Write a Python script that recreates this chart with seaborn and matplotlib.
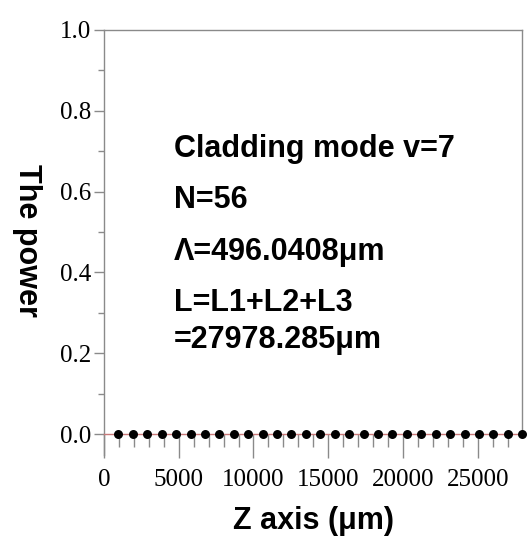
import matplotlib
matplotlib.use("Agg")
import matplotlib.pyplot as plt
import seaborn as sns
import pandas as pd
from matplotlib.ticker import MultipleLocator

# ---- data ----
z_positions = [965, 1929, 2894, 3859, 4824, 5789, 6753, 7718, 8683, 9648,
               10612, 11577, 12542, 13507, 14471, 15436, 16401, 17366, 18331,
               19295, 20260, 21225, 22190, 23154, 24119, 25084, 26049, 27014,
               27978]
power = [0.0] * 29
x_ticks = [0, 5000, 10000, 15000, 20000, 25000]
y_ticks = [0.0, 0.2, 0.4, 0.6, 0.8, 1.0]
annotations = ["Cladding mode v=7", "N=56", "Λ=496.0408μm",
               "L=L1+L2+L3", "=27978.285μm"]
annot_y = [0.686, 0.559, 0.431, 0.304, 0.213]

df = pd.DataFrame({"z": z_positions, "p": power})

sns.set_style("white")
plt.rcParams["font.family"] = ["Liberation Sans", "DejaVu Sans"]
plt.rcParams["text.color"] = "black"
plt.rcParams["axes.labelcolor"] = "black"
plt.rcParams["xtick.color"] = "black"
plt.rcParams["ytick.color"] = "black"

fig = plt.figure(figsize=(5.28, 5.43), dpi=100)
ax = fig.add_axes([0.197, 0.162, 0.792, 0.783])

sns.scatterplot(data=df, x="z", y="p", ax=ax, color="black", s=42,
                edgecolor="black", linewidth=0, zorder=5, clip_on=False)

ax.set_xlim(0, 27978)
ax.set_ylim(-0.052, 1.0)

grey = "#8a8a8a"
for s in ["left", "top", "right"]:
    ax.spines[s].set_color(grey)
    ax.spines[s].set_linewidth(1.0)
ax.spines["right"].set_bounds(0, 1)
ax.spines["bottom"].set_position(("data", 0))
ax.spines["bottom"].set_color("#c87878")
ax.spines["bottom"].set_linewidth(1.0)

ax.set_xticks(x_ticks)
ax.set_xticklabels([str(v) for v in x_ticks])
ax.xaxis.set_minor_locator(MultipleLocator(1000))
ax.set_yticks(y_ticks)
ax.set_yticklabels([f"{v:.1f}" for v in y_ticks])
ax.yaxis.set_minor_locator(MultipleLocator(0.1))

ax.tick_params(axis="x", which="both", bottom=True, top=False)
ax.tick_params(axis="y", which="both", left=True, right=False)
ax.tick_params(axis="x", which="major", direction="out", length=17, width=1,
               color=grey, labelcolor="black", pad=8, labelsize=18)
ax.tick_params(axis="x", which="minor", direction="out", length=9, width=1,
               color=grey)
ax.tick_params(axis="y", which="major", direction="out", length=7, width=1,
               color=grey, labelcolor="black", pad=2, labelsize=18)
ax.tick_params(axis="y", which="minor", direction="out", length=4, width=1,
               color=grey)
for lab in ax.get_xticklabels() + ax.get_yticklabels():
    lab.set_family(["Liberation Serif", "DejaVu Serif"])

ax.set_xlabel("Z axis (μm)", fontsize=22, fontweight="bold", labelpad=11,
              color="black")
ax.set_ylabel("The power", fontsize=22, fontweight="bold", rotation=270,
              color="black", va="center", ha="center")
ax.yaxis.set_label_coords(-0.184, 0.504)

for txt, yy in zip(annotations, annot_y):
    ax.text(4650, yy, txt, fontsize=22, fontweight="bold", ha="left",
            va="baseline", color="black")

fig.savefig("out.png", dpi=100)
